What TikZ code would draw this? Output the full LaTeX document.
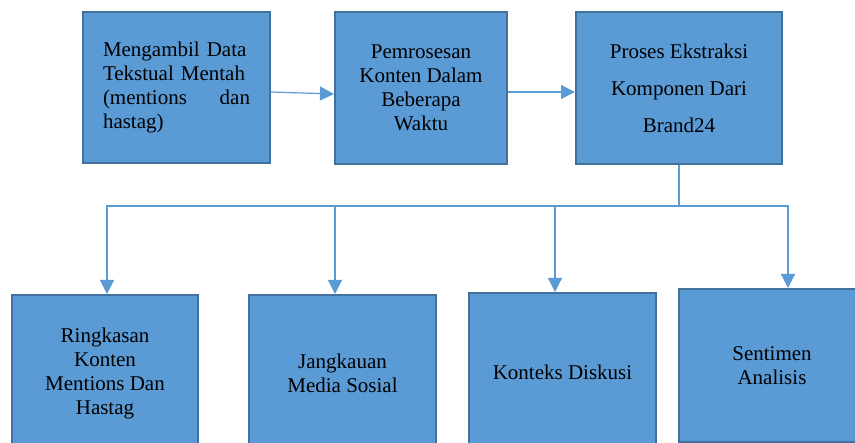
\documentclass[tikz,border=0pt]{standalone}
\usepackage{fontspec}
\setmainfont{Liberation Serif}
\usetikzlibrary{arrows.meta}
\definecolor{boxfill}{HTML}{5B9BD5}
\definecolor{boxline}{HTML}{41719C}
\definecolor{linkblue}{HTML}{5B9BD5}

\begin{document}
\begin{tikzpicture}[x=1pt,y=-1pt,
  box/.style={draw=boxline,line width=2pt,fill=boxfill,inner sep=0pt,
              align=center,font=\fontsize{21}{24}\selectfont},
  link/.style={draw=linkblue,line width=1.2pt,
               -{Triangle[width=14pt,length=14pt]}}]
\useasboundingbox (0,0) rectangle (855,443);
\clip (0,0) rectangle (855,443);
% top row
\node[box,minimum width=187pt,minimum height=151pt,text width=147pt,align=left]
  (b1) at (176.5,87.5) {Mengambil Data\\Tekstual Mentah\\(mentions\hfill dan\\hastag)};
\node[box,minimum width=172pt,minimum height=152pt] (b2) at (421,88)
  {Pemrosesan\\Konten Dalam\\Beberapa\\Waktu};
\node[box,minimum width=206pt,minimum height=152pt,font=\fontsize{21}{37}\selectfont]
  (b3) at (679,88) {Proses Ekstraksi\\Komponen Dari\\Brand24};
% bottom row
\node[box,minimum width=186pt,minimum height=156pt] (b4) at (105,373)
  {Ringkasan\\Konten\\Mentions Dan\\Hastag};
\node[box,minimum width=187pt,minimum height=156pt] (b5) at (342.5,373)
  {Jangkauan\\Media Sosial};
\node[box,minimum width=187pt,minimum height=158pt] (b6) at (562.5,372)
  {Konteks Diskusi};
\node[box,minimum width=186pt,minimum height=153pt] (b7) at (772,365.5)
  {Sentimen\\Analisis};
% connectors
\draw[link] ([yshift=-4.5pt]b1.east) -- ([yshift=-6pt]b2.west);
\draw[link] ([yshift=-4pt]b2.east) -- ([yshift=-4pt]b3.west);
\coordinate (bus) at (679,206);
\draw[draw=linkblue,line width=1.2pt] (b3.south) -- (bus);
\draw[link] (bus) -| ([xshift=2pt]b4.north);
\draw[link] (bus) -| ([xshift=-7.5pt]b5.north);
\draw[link] (bus) -| ([xshift=-7.5pt]b6.north);
\draw[link] (bus) -| ([xshift=16pt]b7.north);
\end{tikzpicture}
\end{document}
